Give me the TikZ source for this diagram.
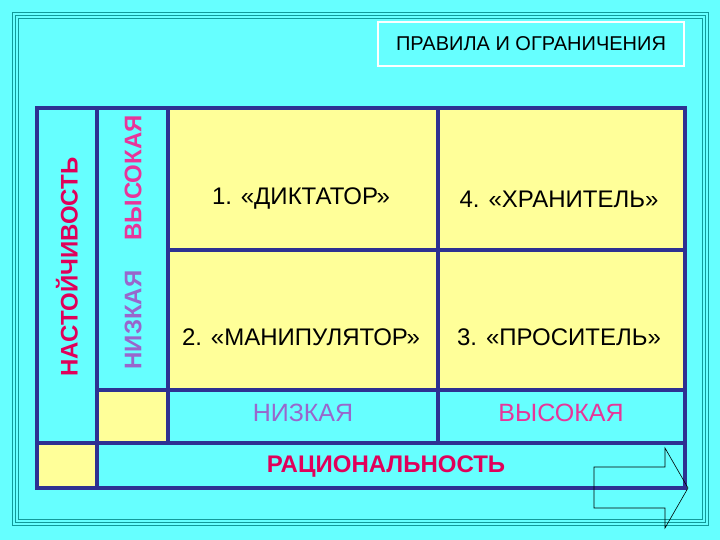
\documentclass[tikz,border=0pt]{standalone}
\usepackage{fontspec}
\setmainfont{Liberation Sans}
\definecolor{cy}{HTML}{66FFFF}
\definecolor{ye}{HTML}{FFFF99}
\definecolor{nv}{HTML}{2E3192}
\definecolor{tl}{HTML}{119999}
\definecolor{crim}{HTML}{E0005A}
\definecolor{mag}{HTML}{E8359A}
\definecolor{pur}{HTML}{9966CC}
\begin{document}
\begin{tikzpicture}[x=1pt,y=-1pt,
  grid/.style={draw=nv,line width=4.5pt},
  lbl/.style={font=\bfseries\fontsize{24}{28}\selectfont},
  cell/.style={font=\fontsize{24}{28}\selectfont}]
\fill[cy] (0,0) rectangle (720,540);
\useasboundingbox (0,0) rectangle (720,540);
\foreach \d in {12,15,18} \draw[tl,line width=0.8pt] (\d,\d) rectangle (720-\d,540-\d-3);
% cells
\fill[ye] (168,108) rectangle (685,390);
\fill[ye] (97,390) rectangle (168,443);
\fill[ye] (37,443) rectangle (97,488);
\draw[grid,line join=miter] (37,108) rectangle (685,488);
\draw[grid] (97,108) -- (97,488);
\draw[grid] (168,108) -- (168,443);
\draw[grid] (438,108) -- (438,443);
\draw[grid] (168,250) -- (685,250);
\draw[grid] (97,390) -- (685,390);
\draw[grid] (37,443) -- (685,443);
% title
\node[draw=white,line width=1.2pt,fill=cy,minimum width=306pt,minimum height=44pt,font=\fontsize{20}{24}\selectfont] (title) at (531,44) {ПРАВИЛА И ОГРАНИЧЕНИЯ};
% labels
\node[lbl,text=crim,rotate=90] (nast) at (67,267) {НАСТОЙЧИВОСТЬ};
\node[lbl,text=mag,rotate=90] (vys) at (133,178) {ВЫСОКАЯ};
\node[lbl,text=pur,rotate=90] (niz) at (133,320) {НИЗКАЯ};
\node[cell] (c1) at (301,199) {1. «ДИКТАТОР»};
\node[cell] (c4) at (559,199) {4. «ХРАНИТЕЛЬ»};
\node[cell] (c2) at (301,337) {2. «МАНИПУЛЯТОР»};
\node[cell] (c3) at (559,337) {3. «ПРОСИТЕЛЬ»};
\node[font=\fontsize{25}{28}\selectfont,text=pur] (lo) at (303,413) {НИЗКАЯ};
\node[font=\fontsize{25}{28}\selectfont,text=mag] (hi) at (561,413) {ВЫСОКАЯ};
\node[lbl,text=crim] (rat) at (386,467) {РАЦИОНАЛЬНОСТЬ};
% arrow
\draw[black,line width=0.6pt] (594,467) -- (665,467) -- (665,448) -- (688,488) -- (665,528) -- (665,508) -- (594,508) -- cycle;
\end{tikzpicture}
\end{document}
